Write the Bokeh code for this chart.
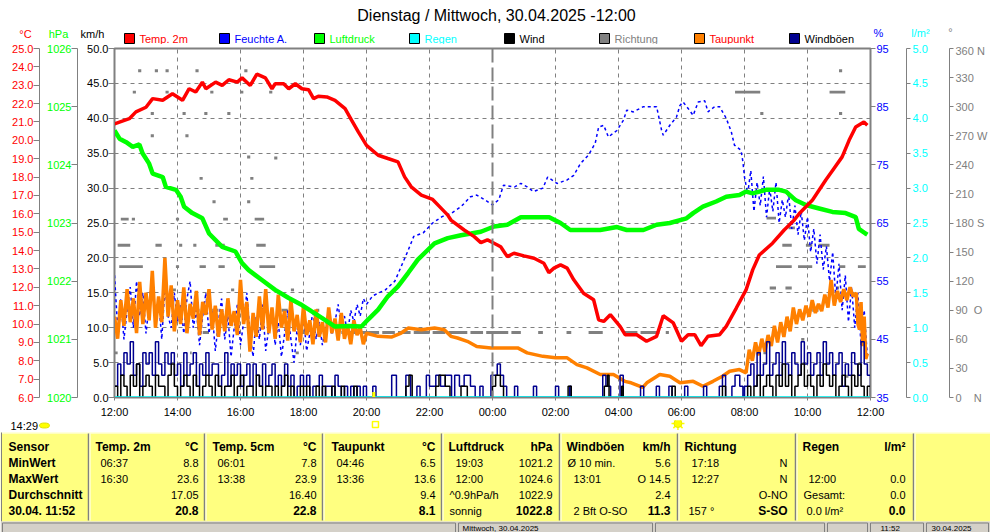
from bokeh.plotting import figure
from bokeh.models import Range1d, LinearAxis, FixedTicker, NumeralTickFormatter, Grid, Span
from bokeh.layouts import column
from bokeh.embed import file_html
from bokeh.resources import INLINE
from bokeh.core.properties import value

FONT = "Liberation Sans"
GRAY = "#808080"

# ---------------- data ----------------
title_text = "Dienstag / Mittwoch, 30.04.2025 -12:00"
x_ticks = [0, 2, 4, 6, 8, 10, 12, 14, 16, 18, 20, 22, 24]
x_tick_labels = ["12:00", "14:00", "16:00", "18:00", "20:00", "22:00", "00:00",
                 "02:00", "04:00", "06:00", "08:00", "10:00", "12:00"]
midnight_h = 12
sunset_h = 8.23
sunrise_h = 17.77
sun_hours_text = "14:29"

legend_names = ["Temp. 2m", "Feuchte A.", "Luftdruck", "Regen", "Wind", "Richtung", "Taupunkt", "Windböen"]
legend_box_colors = ["#ff0000", "#0000ff", "#00ff00", "#00ffff", "#000000", "#808080", "#ff8000", "#000090"]
legend_text_colors = ["#ff0000", "#0000ff", "#00ff00", "#00ffff", "#000000", "#808080", "#ff0000", "#000000"]

temp_ticks = [6, 7, 8, 9, 10, 11, 12, 13, 14, 15, 16, 17, 18, 19, 20, 21, 22, 23, 24, 25]
hpa_ticks = [1020, 1021, 1022, 1023, 1024, 1025, 1026]
kmh_ticks = [0, 5, 10, 15, 20, 25, 30, 35, 40, 45, 50]
pct_ticks = [35, 45, 55, 65, 75, 85, 95]
rain_ticks = [0, 0.5, 1.0, 1.5, 2.0, 2.5, 3.0, 3.5, 4.0, 4.5, 5.0]
deg_ticks = [0, 30, 60, 90, 120, 150, 180, 210, 240, 270, 300, 330, 360]
deg_labels = {0: "0\u00a0\u00a0\u00a0\u00a0N", 90: "90\u00a0\u00a0O", 180: "180 S", 270: "270 W", 360: "360 N"}

# Temp. 2m (°C)
temp_h = [0.0, 0.47, 0.68, 1.0, 1.21, 1.53, 1.84, 2.16, 2.37, 2.58, 2.79, 2.9, 3.21, 3.42, 3.63, 3.9,
          4.05, 4.31, 4.52, 4.79, 5.0, 5.1, 5.37, 5.53, 5.74, 5.95, 6.16, 6.32, 6.47, 6.74, 7.0, 7.32,
          7.53, 7.74, 8.0, 8.37, 8.68, 9.0, 9.21, 9.42, 9.74, 10.1, 10.32, 10.58, 10.68, 11.1, 11.42,
          11.63, 11.84, 12.05, 12.26, 12.47, 12.68, 13.0, 13.32, 13.63, 13.79, 13.95, 14.16, 14.37,
          14.58, 14.89, 15.21, 15.37, 15.53, 15.74, 16.05, 16.21, 16.58, 16.89, 17.21, 17.42, 17.74,
          18.0, 18.21, 18.42, 18.62, 18.84, 19.21, 19.42, 19.74, 20.05, 20.26, 20.47, 20.89, 21.26,
          21.58, 21.74, 22.16, 22.58, 22.84, 23.1, 23.32, 23.53, 23.79, 23.9]
temp_v = [20.9, 21.18, 21.55, 21.8, 22.27, 22.18, 22.54, 22.18, 22.81, 22.63, 23.17, 22.81, 23.17, 22.99, 23.3, 23.17,
          23.4, 22.99, 23.6, 23.4, 22.81, 23.08, 23.08, 22.81, 23.08, 22.81, 22.76, 22.27, 22.4, 22.36, 22.18, 21.73,
          21.09, 20.46, 19.73, 19.19, 19.01, 18.83, 18.01, 17.47, 17.02, 16.78, 16.39, 15.93, 15.66, 15.12, 14.76,
          14.43, 14.58, 14.4, 14.21, 13.67, 13.85, 13.71, 13.58, 13.31, 12.8, 13.04, 13.22, 13.04,
          12.41, 11.68, 11.32, 10.23, 10.14, 10.51, 9.87, 9.42, 9.42, 9.06, 9.33, 10.45, 10.06,
          9.06, 9.42, 9.42, 8.82, 9.33, 9.42, 9.87, 10.87, 11.86, 12.95, 13.76, 14.4, 15.12,
          15.66, 16.02, 16.75, 17.84, 18.47, 19.1, 20.0, 20.73, 21.0, 20.82]

# Luftdruck (hPa)
press_h = [0.0, 0.16, 0.37, 0.58, 0.79, 0.89, 1.1, 1.21, 1.53, 1.63, 1.95, 2.1, 2.21, 2.47, 2.79, 3.0,
           3.42, 3.84, 4.05, 4.26, 4.68, 5.1, 5.53, 5.95, 6.26, 6.58, 7.0, 7.42, 7.84, 8.05, 8.37, 8.68,
           9.0, 9.32, 9.63, 9.95, 10.16, 10.58, 11.0, 11.32, 11.63, 12.05, 12.47, 12.9, 13.3, 13.8,
           14.16, 14.47, 14.9, 15.42, 15.95, 16.26, 16.79, 17.21, 17.63, 18.16, 18.37, 18.68, 19.1,
           19.42, 19.84, 20.05, 20.26, 20.68, 21.1, 21.32, 21.63, 21.95, 22.37, 22.79, 23.21, 23.53,
           23.63, 23.84, 23.9]
press_v = [1024.59, 1024.45, 1024.39, 1024.31, 1024.35, 1024.2, 1024.02, 1023.85, 1023.79, 1023.62, 1023.57,
           1023.45, 1023.28, 1023.17, 1023.08, 1022.82, 1022.59, 1022.51, 1022.31, 1022.19, 1022.02, 1021.85,
           1021.71, 1021.59, 1021.48, 1021.37, 1021.22, 1021.23, 1021.22, 1021.34, 1021.51, 1021.74,
           1021.91, 1022.14, 1022.37, 1022.54, 1022.65, 1022.74, 1022.79, 1022.82, 1022.85, 1022.94,
           1022.97, 1023.1, 1023.1, 1023.1, 1023.0, 1022.88, 1022.88, 1022.88, 1022.93, 1022.88,
           1022.88, 1022.97, 1023.0, 1023.08, 1023.17, 1023.28, 1023.37, 1023.45, 1023.48, 1023.54,
           1023.51, 1023.57, 1023.57, 1023.54, 1023.39, 1023.31, 1023.25, 1023.19, 1023.17, 1023.1,
           1022.9, 1022.82, 1022.8]

# Feuchte A. (%)
hum_h = [0.0, 0.1, 0.2, 0.3, 0.4, 0.5, 0.6, 0.7, 0.8, 0.9, 1.0, 1.1, 1.2, 1.3, 1.4, 1.5, 1.6, 1.7, 1.8, 1.9,
         2.0, 2.1, 2.2, 2.3, 2.4, 2.5, 2.6, 2.7, 2.8, 2.9, 3.0, 3.1, 3.2, 3.3, 3.4, 3.5, 3.6, 3.7, 3.8, 3.9,
         4.0, 4.1, 4.2, 4.3, 4.4, 4.5, 4.6, 4.7, 4.8, 4.9, 5.0, 5.1, 5.2, 5.3, 5.4, 5.5, 5.6, 5.7, 5.8, 5.9,
         6.0, 6.1, 6.2, 6.3, 6.4, 6.5, 6.6, 6.7, 6.8, 6.9, 7.0, 7.1, 7.2, 7.3, 7.4, 7.5, 7.6, 7.7, 7.8, 7.9,
         8.0, 8.2, 8.4, 8.6, 8.9, 9.1, 9.3, 9.5, 9.8, 10.1, 10.4, 10.7, 11.0, 11.3, 11.5, 11.75, 12.0,
         12.2, 12.35, 12.7, 12.9, 13.1, 13.3, 13.6, 13.75, 14.05, 14.37, 14.58, 14.79, 15.05, 15.26,
         15.37, 15.53, 15.68, 15.95, 16.16, 16.26, 16.47, 16.79, 17.21, 17.37, 17.42, 17.63, 17.84,
         17.95, 18.05, 18.21, 18.37, 18.53, 18.74, 18.84, 19.05, 19.21, 19.42, 19.58, 19.68, 19.89,
         19.95, 20.0, 20.1, 20.2, 20.3, 20.4, 20.5, 20.6, 20.7, 20.8, 20.9, 21.0, 21.1, 21.2, 21.3,
         21.4, 21.5, 21.6, 21.7, 21.8, 21.9, 22.0, 22.1, 22.2, 22.3, 22.4, 22.5, 22.6, 22.7, 22.8,
         22.9, 23.0, 23.1, 23.2, 23.3, 23.4, 23.5, 23.6, 23.7, 23.8, 23.9]
hum_v = [56, 47, 52, 45, 50, 54, 47, 55, 49, 53, 46, 51, 56, 48, 52, 45, 54, 49, 47, 53,
         48, 51, 46, 52, 55, 47, 50, 44, 49, 53, 46, 50, 43, 48, 52, 45, 49, 42, 47, 51,
         44, 48, 53, 46, 42, 49, 45, 51, 43, 47, 50, 44, 48, 42, 46, 50, 45, 41, 47, 44,
         49, 43, 46, 50, 45, 48, 44, 47, 50, 46, 48, 51, 47, 49, 46, 50, 48, 51, 49, 52,
         51, 52.5, 53, 53.5, 55, 57.5, 60, 62.7, 63.3, 65, 66.1, 66.7, 67.8, 69.5, 69.8, 69, 68.1,
         69, 71.5, 71.2, 71.8, 71.2, 70.4, 71, 72.9, 71.8, 72.4, 73.2, 75.2, 76.7, 78.7,
         81.5, 81.8, 79.8, 80.9, 82.7, 84.4, 84.1, 85, 85, 80.9, 80.1, 81.8, 83.2,
         85.2, 85.8, 84.7, 83.5, 85.8, 86, 84.1, 85, 85, 83, 80.7, 78.4, 77.5,
         75.5, 72.9, 70, 74, 67, 72, 68, 73, 66, 71, 67, 72, 65, 69, 66,
         70, 64, 68, 63, 67, 62, 66, 60, 64, 58, 63, 57, 61, 55, 60,
         52, 58, 50, 56, 48, 54, 47, 53, 44, 50, 42]

# Taupunkt (°C)
dew_h = [0.0, 0.1, 0.2, 0.3, 0.4, 0.5, 0.6, 0.7, 0.8, 0.9, 1.0, 1.1, 1.2, 1.3, 1.4, 1.5, 1.6, 1.7, 1.8, 1.9,
         2.0, 2.1, 2.2, 2.3, 2.4, 2.5, 2.6, 2.7, 2.8, 2.9, 3.0, 3.1, 3.2, 3.3, 3.4, 3.5, 3.6, 3.7, 3.8, 3.9,
         4.0, 4.1, 4.2, 4.3, 4.4, 4.5, 4.6, 4.7, 4.8, 4.9, 5.0, 5.1, 5.2, 5.3, 5.4, 5.5, 5.6, 5.7, 5.8, 5.9,
         6.0, 6.1, 6.2, 6.3, 6.4, 6.5, 6.6, 6.7, 6.8, 6.9, 7.0, 7.1, 7.2, 7.3, 7.4, 7.5, 7.6, 7.7, 7.8, 7.9,
         8.0, 8.37, 8.79, 9.1, 9.32, 9.74, 10.16, 10.47, 10.68, 10.89, 11.2, 11.5, 11.95, 12.4, 12.8,
         13.1, 13.6, 14.0, 14.37, 14.68, 15.0, 15.42, 15.84, 16.2, 16.4, 16.77, 16.9, 17.31, 17.63,
         17.95, 18.37, 18.68, 19.0, 19.3, 19.53, 19.84, 20.05,
         20.15, 20.25, 20.35, 20.45, 20.55, 20.65, 20.75, 20.85, 20.95, 21.05, 21.15, 21.25, 21.35,
         21.45, 21.55, 21.65, 21.75, 21.85, 21.95, 22.05, 22.15, 22.25, 22.35, 22.45, 22.55, 22.65,
         22.75, 22.85, 22.95, 23.05, 23.15, 23.25, 23.35, 23.45, 23.55, 23.6, 23.65, 23.7, 23.75,
         23.8, 23.85, 23.9]
dew_v = [10.4, 9.2, 11.3, 9.9, 11.9, 10.1, 11.4, 9.5, 12.3, 10.0, 11.7, 10.2, 12.9, 9.8, 11.5, 10.1, 13.6, 10.4, 12.1, 9.6,
         11.3, 10.0, 12.0, 9.5, 11.1, 10.3, 11.8, 9.4, 11.2, 10.5, 11.9, 9.7, 11.0, 9.3, 10.8, 9.6, 11.4, 9.9, 10.7, 9.4,
         12.4, 10.0, 11.2, 8.5, 10.6, 9.3, 11.5, 9.7, 11.9, 9.5, 10.9, 9.2, 11.6, 9.8, 10.7, 9.1, 11.3, 9.6, 10.5, 9.0,
         11.0, 9.4, 10.2, 8.9, 10.8, 9.3, 10.1, 9.0, 10.9, 9.5, 10.3, 9.1, 10.6, 9.2, 9.9, 8.9, 10.2, 9.4, 9.8, 8.9,
         9.5, 9.33, 9.29, 9.51, 9.78, 9.69, 9.78, 9.69, 9.33, 9.24, 9.06, 8.78, 8.7, 8.7, 8.7,
         8.43, 8.24, 8.16, 8.16, 7.79, 7.61, 7.25, 7.25, 6.88, 6.8, 6.55, 6.8, 7.25, 7.16,
         6.8, 6.88, 6.61, 6.88, 7.16, 7.43, 7.52, 7.34,
         8.6, 8.0, 9.0, 8.3, 9.2, 8.5, 9.4, 8.8, 9.9, 9.0, 10.1, 9.3, 10.4,
         9.6, 10.9, 10.0, 10.8, 10.2, 11.0, 10.4, 11.3, 10.6, 11.1, 10.7, 11.6, 10.9,
         12.4, 11.0, 11.8, 11.2, 11.9, 11.3, 12.0, 11.5, 11.7, 10.0, 9.7, 11.2, 8.8,
         10.4, 8.1, 8.4]

# Windböen and Wind (km/h), step series
gust_h = [0.0, 0.1, 0.2, 0.3, 0.4, 0.5, 0.6, 0.7, 0.8, 0.9, 1.0, 1.1, 1.2, 1.3, 1.4, 1.5, 1.6, 1.7, 1.8, 1.9,
          2.0, 2.1, 2.2, 2.3, 2.4, 2.5, 2.6, 2.7, 2.8, 2.9, 3.0, 3.1, 3.2, 3.3, 3.4, 3.5, 3.6, 3.7, 3.8, 3.9,
          4.0, 4.1, 4.2, 4.3, 4.4, 4.5, 4.6, 4.7, 4.8, 4.9, 5.0, 5.1, 5.2, 5.3, 5.4, 5.5, 5.6, 5.7, 5.8, 5.9,
          6.0, 6.1, 6.2, 6.3, 6.4, 6.5, 6.6, 6.7, 6.8, 6.9, 7.0, 7.1, 7.2, 7.3, 7.4, 7.5, 7.6, 7.7, 7.8, 7.9,
          8.0, 8.2, 8.3, 8.8, 8.95, 9.25, 9.4, 9.6, 9.7, 9.9, 10.0, 10.2, 10.35, 10.5, 10.7, 10.8, 10.95,
          11.1, 11.3, 11.45, 11.6, 11.7, 11.95, 12.05, 12.15, 12.25, 12.35, 12.45, 12.7, 12.8, 13.3, 13.4,
          14.0, 14.1, 14.45, 14.5, 15.5, 15.6, 15.75, 16.05, 16.15, 16.7, 16.8, 17.2, 17.3, 17.6, 17.7,
          18.1, 18.2, 18.7, 18.8, 19.2, 19.3, 19.4, 19.6, 19.7, 19.85, 19.95,
          20.0, 20.1, 20.2, 20.3, 20.4, 20.5, 20.6, 20.7, 20.8, 20.9, 21.0, 21.1, 21.2, 21.3, 21.4,
          21.5, 21.6, 21.7, 21.8, 21.9, 22.0, 22.1, 22.2, 22.3, 22.4, 22.5, 22.6, 22.7, 22.8, 22.9,
          23.0, 23.1, 23.2, 23.3, 23.4, 23.5, 23.6, 23.7, 23.8, 23.9, 24.0]
gust_v = [1.6, 4.8, 3.2, 6.4, 4.8, 8.0, 3.2, 4.8, 1.6, 6.4, 4.8, 6.4, 3.2, 8.0, 4.8, 3.2, 6.4, 4.8, 6.4, 3.2,
          4.8, 1.6, 6.4, 3.2, 4.8, 6.4, 1.6, 4.8, 3.2, 6.4, 3.2, 4.8, 4.8, 1.6, 3.2, 6.4, 1.6, 4.8, 3.2, 4.8,
          1.6, 3.2, 4.8, 1.6, 4.8, 3.2, 1.6, 4.8, 1.6, 3.2, 4.8, 1.6, 3.2, 1.6, 4.8, 1.6, 3.2, 0.0, 1.6, 3.2,
          1.6, 3.2, 0.0, 1.6, 1.6, 3.2, 0.0, 1.6, 1.6, 0.0, 3.2, 1.6, 0.0, 1.6, 0.0, 1.6, 0.0, 1.6, 0.0, 1.6,
          0.0, 1.6, 0.0, 3.2, 0.0, 3.2, 0.0, 1.6, 0.0, 3.2, 1.6, 3.2, 1.6, 3.2, 0.0, 3.2, 1.6,
          3.2, 1.6, 0.0, 1.6, 0.0, 3.2, 3.2, 4.8, 3.2, 1.6, 0.0, 1.6, 0.0, 1.6, 0.0,
          1.6, 0.0, 1.6, 0.0, 3.2, 1.6, 0.0, 3.2, 0.0, 1.6, 0.0, 1.6, 0.0, 1.6, 0.0,
          1.6, 0.0, 1.6, 0.0, 1.6, 3.2, 0.0, 1.6, 3.2, 1.6, 0.0,
          1.6, 3.2, 4.8, 1.6, 6.4, 3.2, 4.8, 8.0, 3.2, 4.8, 6.4, 3.2, 8.0, 4.8, 3.2,
          6.4, 4.8, 3.2, 8.0, 4.8, 6.4, 3.2, 4.8, 6.4, 3.2, 8.0, 4.8, 6.4, 3.2, 4.8,
          6.4, 1.6, 4.8, 3.2, 6.4, 4.8, 3.2, 8.0, 4.8, 3.2, 1.6]

wind_h = [0.0, 0.1, 0.2, 0.3, 0.4, 0.5, 0.6, 0.7, 0.8, 0.9, 1.0, 1.1, 1.2, 1.3, 1.4, 1.5, 1.6, 1.7, 1.8, 1.9,
          2.0, 2.1, 2.2, 2.3, 2.4, 2.5, 2.6, 2.7, 2.8, 2.9, 3.0, 3.1, 3.2, 3.3, 3.4, 3.5, 3.6, 3.7, 3.8, 3.9,
          4.0, 4.1, 4.2, 4.3, 4.4, 4.5, 4.6, 4.7, 4.8, 4.9, 5.0, 5.1, 5.2, 5.3, 5.4, 5.5, 5.6, 5.7, 5.8, 5.9,
          6.0, 6.1, 6.2, 6.3, 6.4, 6.5, 6.6, 6.7, 6.8, 6.9, 7.0, 7.1, 7.2, 7.3, 7.4, 7.5, 7.6, 7.7, 7.8, 7.9,
          8.0, 9.25, 9.35, 9.45, 10.2, 10.3, 10.5, 10.65, 11.0, 11.2, 12.0, 12.1, 12.25, 12.35, 14.4, 14.5,
          15.55, 15.65, 15.7, 16.1, 16.15, 17.7, 17.8, 19.3, 19.4,
          20.0, 20.1, 20.2, 20.3, 20.4, 20.5, 20.6, 20.7, 20.8, 20.9, 21.0, 21.1, 21.2, 21.3, 21.4,
          21.5, 21.6, 21.7, 21.8, 21.9, 22.0, 22.1, 22.2, 22.3, 22.4, 22.5, 22.6, 22.7, 22.8, 22.9,
          23.0, 23.1, 23.2, 23.3, 23.4, 23.5, 23.6, 23.7, 23.8, 23.9, 24.0]
wind_v = [1.6, 0.0, 3.2, 1.6, 0.0, 3.2, 1.6, 4.8, 0.0, 1.6, 3.2, 1.6, 0.0, 3.2, 1.6, 1.6, 0.0, 3.2, 4.8, 1.6,
          0.0, 1.6, 3.2, 1.6, 0.0, 3.2, 1.6, 0.0, 1.6, 3.2, 1.6, 0.0, 3.2, 1.6, 0.0, 1.6, 1.6, 3.2, 0.0, 1.6,
          3.2, 0.0, 1.6, 1.6, 0.0, 3.2, 1.6, 0.0, 1.6, 1.6, 0.0, 1.6, 0.0, 1.6, 3.2, 0.0, 1.6, 0.0, 0.0, 1.6,
          0.0, 1.6, 0.0, 0.0, 1.6, 0.0, 1.6, 0.0, 0.0, 1.6, 0.0, 0.0, 1.6, 0.0, 0.0, 0.0, 1.6, 0.0, 0.0, 0.0,
          0.0, 1.6, 3.2, 0.0, 1.6, 3.2, 1.6, 0.0, 1.6, 0.0, 1.6, 3.2, 1.6, 0.0, 1.6, 0.0,
          1.6, 3.2, 0.0, 1.6, 0.0, 1.6, 0.0, 1.6, 0.0,
          0.0, 1.6, 0.0, 1.6, 3.2, 0.0, 1.6, 3.2, 1.6, 0.0, 3.2, 1.6, 4.8, 1.6, 3.2,
          0.0, 1.6, 3.2, 4.8, 1.6, 3.2, 1.6, 0.0, 3.2, 1.6, 4.8, 3.2, 1.6, 3.2, 0.0,
          1.6, 3.2, 1.6, 0.0, 3.2, 1.6, 4.8, 1.6, 0.0, 1.6, 0.0]

# Richtung (°): runs of equal direction (start h, end h, degrees)
dir_start = [0.75, 1.28, 1.62, 2.57, 4.12, 0.58, 1.62, 3.04, 3.99, 4.91, 1.15, 2.16, 2.85, 3.58,
             1.15, 2.25, 4.21, 5.07, 2.7, 4.31, 3.11, 4.21, 0.2, 0.55, 1.95, 3.45, 4.45,
             0.1, 1.3, 2.05, 2.5, 3.2, 4.5, 0.15, 1.95, 2.7, 3.3, 4.6, 1.85, 3.7, 5.6,
             2.4, 3.1, 5.3, 6.4, 2.8, 5.85, 7.2, 0.0, 2.4, 5.75,
             8.05, 8.5, 9.0, 9.5, 10.1, 10.6, 11.3, 11.8, 12.6, 13.45, 14.35, 15.05, 16.2, 16.7, 17.5,
             19.7, 20.5, 20.6, 20.8, 21.0, 21.2, 21.3, 21.7, 21.95, 22.15, 22.35, 22.7, 23.0, 23.0,
             23.0, 23.2, 23.6, 20.7, 21.4, 22.0, 22.9, 21.8]
dir_end = [0.85, 1.38, 1.72, 2.67, 4.22, 0.68, 1.72, 3.14, 4.09, 5.01, 1.25, 2.26, 2.95, 3.68,
           1.25, 2.35, 4.31, 5.17, 2.8, 4.41, 3.21, 4.31, 0.45, 0.65, 2.05, 3.6, 4.75,
           0.5, 1.5, 2.15, 2.6, 3.5, 4.8, 0.9, 2.05, 2.9, 3.5, 5.1, 1.95, 3.8, 5.7,
           2.7, 3.3, 5.5, 6.5, 3.0, 6.15, 8.05, 0.1, 2.45, 5.85,
           8.4, 8.9, 9.4, 10.0, 10.5, 11.2, 11.7, 12.5, 12.9, 13.6, 14.5, 15.5, 16.6, 17.3, 17.6,
           20.5, 20.6, 20.7, 21.0, 21.5, 21.5, 21.5, 22.15, 22.15, 22.35, 22.7, 23.2, 23.1, 23.1,
           23.2, 23.3, 23.85, 21.0, 21.6, 22.1, 23.0, 21.9]
dir_deg = [337, 337, 337, 337, 337, 315, 315, 315, 315, 315, 293, 293, 293, 293,
           270, 270, 248, 247, 226, 226, 202, 202, 184, 184, 184, 184, 184,
           157, 157, 157, 157, 157, 157, 135, 135, 135, 135, 135, 111, 111, 111,
           90, 90, 90, 90, 67, 67, 67, 46, 46, 46,
           67, 67, 67, 67, 67, 67, 67, 67, 67, 67, 67, 67, 67, 67, 67,
           315, 293, 46, 113, 135, 157, 113, 135, 157, 90, 157, 315, 337, 293,
           135, 22, 135, 185, 175, 200, 113, 60]

# Regen (l/m²)
rain_h = [0.0, 24.0]
rain_v = [0.0, 0.0]

# ---------------- table data ----------------
sensor_rows = ["Sensor", "MinWert", "MaxWert", "Durchschnitt", "30.04. 11:52"]
col_headers = ["Temp. 2m", "Temp. 5cm", "Taupunkt", "Luftdruck", "Windböen", "Richtung", "Regen"]
col_units = ["°C", "°C", "°C", "hPa", "km/h", "", "l/m²"]
col_left = [["06:37", "16:30", "", ""],
            ["06:01", "13:38", "", ""],
            ["04:46", "13:36", "", ""],
            ["19:03", "12:00", "^0.9hPa/h", "sonnig"],
            ["Ø 10 min.", "13:01", "", "2 Bft O-SO"],
            ["17:18", "12:27", "", "157 °"],
            ["", "12:00", "Gesamt:", "0.0 l/m²"]]
col_right = [["8.8", "23.6", "17.05", "20.8"],
             ["7.8", "23.9", "16.40", "22.8"],
             ["6.5", "13.6", "9.4", "8.1"],
             ["1021.2", "1024.6", "1022.9", "1022.8"],
             ["5.6", "O 14.5", "2.4", "11.3"],
             ["N", "N", "O-NO", "S-SO"],
             ["", "0.0", "0.0", "0.0"]]
status_texts = ["Mittwoch, 30.04.2025", "11:52", "30.04.2025"]

# ---------------- layout constants ----------------
W = 990
PX_H = 761 / 24.0       # pixels per hour in the plot frame
FRAME_LEFT = 114

# ---------------- header figure ----------------
hdr = figure(width=W, height=44, x_range=Range1d(0, W), y_range=Range1d(44, 0),
             x_axis_location=None, y_axis_location=None, toolbar_location=None,
             output_backend="svg", min_border=0, outline_line_color=None, frame_align=False)
hdr.grid.visible = False
hdr.text(x=[496], y=[15], text=[title_text], text_align="center", text_baseline="middle",
         text_font=value(FONT), text_font_size="16px", text_color="black")
lx = [124 + 95 * i for i in range(len(legend_names))]
hdr.rect(x=[v + 5 for v in lx], y=[38] * len(lx), width=10, height=10,
         fill_color=legend_box_colors, line_color="black", line_width=1)
hdr.text(x=[v + 15 for v in lx], y=[38] * len(lx), text=legend_names, text_color=legend_text_colors,
         text_align="left", text_baseline="middle", text_font=value(FONT), text_font_size="11px")
unit_text = ["°C", "hPa", "km/h", "%", "l/m²", "°"]
unit_x = [25, 58, 92, 878, 920, 950]
unit_y = [33, 33, 33, 32, 32, 31]
unit_col = ["#ff0000", "#00ff00", "#000000", "#0000ff", "#00ffff", GRAY]
hdr.text(x=unit_x, y=unit_y, text=unit_text, text_color=unit_col, text_align="center",
         text_baseline="middle", text_font=value(FONT), text_font_size="11px")

# ---------------- main figure ----------------
p = figure(width=W, height=376, x_range=Range1d(0, 24), y_range=Range1d(0, 50),
           x_axis_location=None, y_axis_location=None, toolbar_location=None,
           output_backend="svg", min_border_left=FRAME_LEFT, min_border_right=W - FRAME_LEFT - 761,
           min_border_top=4, min_border_bottom=22, frame_align=False,
           outline_line_color=GRAY, outline_line_width=2,
           background_fill_color="white", border_fill_color="white")
p.grid.visible = False
p.extra_y_ranges = {"temp": Range1d(6, 25), "hpa": Range1d(1020, 1026), "pct": Range1d(35, 95),
                    "rain": Range1d(0, 5), "deg": Range1d(0, 360)}


def make_axis(rng, ticks, color, fmt=None, tick_out=6, standoff=0, pad=None, overrides=None):
    ax = LinearAxis(y_range_name=rng, ticker=FixedTicker(ticks=ticks),
                    axis_line_color=GRAY, major_tick_line_color=GRAY,
                    major_tick_out=tick_out, major_tick_in=0, minor_tick_line_color=None,
                    minor_tick_out=0, major_label_standoff=standoff,
                    major_label_text_color=color, major_label_text_font=FONT,
                    major_label_text_font_size="11px")
    if fmt:
        ax.formatter = NumeralTickFormatter(format=fmt)
    if pad is not None:
        ax.axis_label = " "
        ax.axis_label_text_font_size = "1px"
        ax.axis_label_standoff = pad
    if overrides:
        ax.major_label_overrides = overrides
    return ax


p.add_layout(make_axis("default", kmh_ticks, "#000000", "0.0", 6, 0, 2), "left")
p.add_layout(make_axis("hpa", hpa_ticks, "#00ff00", "0", 6, 0, 0), "left")
p.add_layout(make_axis("temp", temp_ticks, "#ff0000", "0.0", 6, 0), "left")
p.add_layout(make_axis("pct", pct_ticks, "#0000ff", "0", 5, 1, 11), "right")
p.add_layout(make_axis("rain", rain_ticks, "#00ffff", "0.0", 4, 2, 15), "right")
p.add_layout(make_axis("deg", deg_ticks, GRAY, None, 4, 2, None, deg_labels), "right")

xax = LinearAxis(ticker=FixedTicker(ticks=x_ticks),
                 major_label_overrides={h: lab for h, lab in zip(x_ticks, x_tick_labels)},
                 axis_line_color=GRAY, major_tick_line_color=GRAY, major_tick_out=3, major_tick_in=0,
                 minor_tick_line_color=None, major_label_standoff=5,
                 major_label_text_font=FONT, major_label_text_font_size="11px",
                 major_label_text_color="black")
p.add_layout(xax, "below")

p.add_layout(Grid(dimension=0, ticker=FixedTicker(ticks=[t for t in x_ticks if t not in (0, 24, midnight_h)]),
                  grid_line_color=GRAY, grid_line_dash="4 4", grid_line_width=1))
p.add_layout(Grid(dimension=1, ticker=FixedTicker(ticks=kmh_ticks[1:-1]),
                  grid_line_color=GRAY, grid_line_dash="4 4", grid_line_width=1))
p.add_layout(Span(location=midnight_h, dimension="height", line_color=GRAY,
                  line_dash="14 5", line_width=2))

p.hbar(y=dir_deg, left=dir_start, right=dir_end, height=3, y_range_name="deg",
       fill_color=GRAY, line_color=None)
p.line(hum_h, hum_v, y_range_name="pct", line_color="#0000ff", line_width=1.5, line_dash="3 3")
p.line(dew_h, dew_v, y_range_name="temp", line_color="#ff8000", line_width=3.5)
p.line(press_h, press_v, y_range_name="hpa", line_color="#00ff00", line_width=4.5)
p.line(temp_h, temp_v, y_range_name="temp", line_color="#ff0000", line_width=3.5)
p.step(gust_h, gust_v, mode="after", line_color="#000090", line_width=1.5)
p.step(wind_h, wind_v, mode="after", line_color="#000000", line_width=1.5)
p.line(rain_h, rain_v, y_range_name="rain", line_color="#00ffff", line_width=2.5)
# sunset marker on the time axis
p.segment(x0=[sunset_h], y0=[0], x1=[sunset_h], y1=[0.8], line_color="#ffff00", line_width=3)

# ---------------- table figure ----------------
tbl = figure(width=W, height=112, x_range=Range1d(0, W), y_range=Range1d(532, 420),
             x_axis_location=None, y_axis_location=None, toolbar_location=None,
             output_backend="svg", min_border=0, outline_line_color=None, frame_align=False)
tbl.grid.visible = False
tbl.extra_x_ranges = {"time": Range1d(-FRAME_LEFT / PX_H, (W - FRAME_LEFT) / PX_H)}

tbl.text(x=[10], y=[425], text=[sun_hours_text], text_align="left", text_baseline="middle",
         text_font=value(FONT), text_font_size="11px", text_color="black")
tbl.ellipse(x=[44], y=[425], width=10, height=5, fill_color="#ffff00", line_color="#e0e000")
tbl.scatter(x=[sunset_h], y=[424], x_range_name="time", marker="square", size=6,
            fill_color=None, line_color="#ffff00", line_width=1.5)
tbl.scatter(x=[sunrise_h], y=[423], x_range_name="time", marker="asterisk", size=13,
            line_color="#ffff00", line_width=1.5)
tbl.scatter(x=[sunrise_h], y=[423], x_range_name="time", marker="circle", size=8,
            fill_color="#ffff00", line_color="#e8e800")

# yellow info table
tbl.quad(left=[0], right=[W], top=[432], bottom=[521], fill_color="#ffff80", line_color=None)
tbl.segment(x0=[0], y0=[432.5], x1=[W], y1=[432.5], line_color="white", line_width=1)
tbl.segment(x0=[1], y0=[432], x1=[1], y1=[521], line_color=GRAY, line_width=1)
sep_x = [88, 204, 322, 441, 559, 677, 795, 913]
tbl.segment(x0=sep_x, y0=[433] * 8, x1=sep_x, y1=[520] * 8, line_color=GRAY, line_width=1.5)
tbl.segment(x0=[s + 1.5 for s in sep_x], y0=[433] * 8, x1=[s + 1.5 for s in sep_x], y1=[520] * 8,
            line_color="white", line_width=1)

# status bar
tbl.quad(left=[0], right=[W], top=[521], bottom=[532], fill_color="#d4d0c8", line_color=None)
panel_l = [2, 458, 655, 827, 870, 926]
panel_r = [455, 652, 824, 867, 923, 988]
tbl.quad(left=panel_l, right=panel_r, top=[522.5] * 6, bottom=[534] * 6, fill_color="#d4d0c8",
         line_color=GRAY, line_width=1)
tbl.text(x=[462, 880, 931], y=[527.5, 527.5, 527.5], text=status_texts, text_align="left",
         text_baseline="middle", text_font=value(FONT), text_font_size="8px", text_color="black")

row_y = [446, 462, 478, 494, 510]
col_x = [95, 212, 331, 448, 566, 684, 802]
col_r = [198, 316, 435, 552, 670, 787, 905]
indent = [[5, 5, 0, 0], [5, 5, 0, 0], [5, 5, 0, 0], [7, 7, 1, 1], [1, 7, 0, 7], [7, 7, 0, 4], [0, 6, 1, 4]]

bold = dict(text_font=value(FONT), text_font_size="12px", text_font_style="bold",
            text_baseline="middle", text_color="black")
normal = dict(text_font=value(FONT), text_font_size="11px", text_baseline="middle", text_color="black")

tbl.text(x=[8] * 5, y=row_y, text=sensor_rows, text_align="left", **bold)
tbl.text(x=col_x, y=[row_y[0]] * 7, text=col_headers, text_align="left", **bold)
tbl.text(x=col_r, y=[row_y[0]] * 7, text=col_units, text_align="right", **bold)

lx_, ly_, lt_ = [], [], []
rx_, ry_, rt_ = [], [], []
bx_, by_, bt_ = [], [], []
for i in range(7):
    for r in range(4):
        if col_left[i][r]:
            lx_.append(col_x[i] + indent[i][r]); ly_.append(row_y[r + 1]); lt_.append(col_left[i][r])
        if col_right[i][r]:
            if r == 3:
                bx_.append(col_r[i]); by_.append(row_y[r + 1]); bt_.append(col_right[i][r])
            else:
                rx_.append(col_r[i]); ry_.append(row_y[r + 1]); rt_.append(col_right[i][r])
tbl.text(x=lx_, y=ly_, text=lt_, text_align="left", **normal)
tbl.text(x=rx_, y=ry_, text=rt_, text_align="right", **normal)
tbl.text(x=bx_, y=by_, text=bt_, text_align="right", **bold)

layout = column(hdr, p, tbl, spacing=0)
open("out.html", "w").write(file_html(layout, INLINE))
